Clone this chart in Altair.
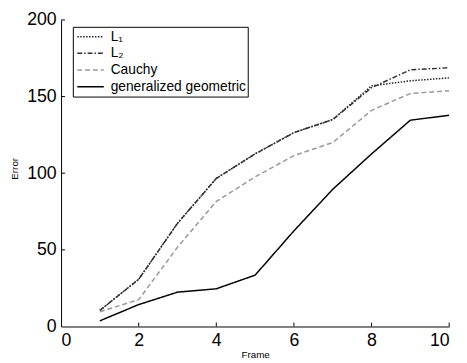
import altair as alt
import pandas as pd

frames = [1, 2, 3, 4, 5, 6, 7, 8, 9, 10]
l1 = [10.5, 30.8, 67.3, 96.6, 112.6, 126.5, 135.0, 157.0, 160.3, 162.2]
l2 = [10.5, 30.8, 67.3, 96.6, 112.6, 126.5, 135.0, 155.8, 167.5, 168.8]
cauchy = [9.6, 17.5, 51.7, 81.6, 97.6, 111.5, 120.0, 141.0, 152.0, 153.8]
gengeo = [3.7, 14.3, 22.4, 24.6, 33.5, 62.4, 89.5, 112.6, 134.6, 137.8]

names = ["L\u2081", "L\u2082", "Cauchy", "generalized geometric"]
series = [l1, l2, cauchy, gengeo]
x_ticks = [2, 4, 6, 8, 10]
y_ticks = [50, 100, 150, 200]

rows = []
for n, vals in zip(names, series):
    for f, v in zip(frames, vals):
        rows.append({"Frame": f, "Error": v, "method": n})
df = pd.DataFrame(rows)

W, H = 395, 312
FONT = "Liberation Sans"

xscale = alt.Scale(domain=[0, 10], nice=False)
yscale = alt.Scale(domain=[0, 200], nice=False)

leg = alt.Legend(
    title=None, orient="none", legendX=12, legendY=7,
    symbolType="stroke", symbolSize=729, clipHeight=17, rowPadding=0,
    padding=1.5, symbolOffset=2, labelOffset=6,
    labelFont=FONT, labelFontSize=14, labelColor="black",
    strokeColor="black", fillColor="white",
    labelExpr="datum.label + '\u00a0\u00a0'",
)

lines = alt.Chart(df).mark_line(clip=True).encode(
    x=alt.X("Frame:Q", scale=xscale,
            axis=alt.Axis(values=[0, 2, 4, 6, 8, 10], ticks=False, grid=False,
                          labelFontSize=18, labelPadding=5, labelFont=FONT,
                          labelColor="black", domainColor="black",
                          title="Frame", titleFont=FONT, titleFontSize=10,
                          titleFontWeight="normal", titleColor="black",
                          titleY=24, titleBaseline="top")),
    y=alt.Y("Error:Q", scale=yscale,
            axis=alt.Axis(values=[0, 50, 100, 150, 200], ticks=False, grid=False,
                          labelFontSize=18, labelPadding=5, labelFont=FONT,
                          labelColor="black", domainColor="black",
                          title="Error", titleFont=FONT, titleFontSize=10,
                          titleFontWeight="normal", titleColor="black",
                          titleX=-47, titleY=151, titleAngle=-90,
                          titleAlign="center", titleBaseline="middle")),
    color=alt.Color("method:N", sort=names,
                    scale=alt.Scale(domain=names, range=["#222222", "#333333", "#999999", "#000000"]),
                    legend=leg),
    strokeDash=alt.StrokeDash("method:N", sort=names,
                              scale=alt.Scale(domain=names, range=[[1.5, 1.5], [5, 2, 1.5, 2], [5, 3], [1, 0]]),
                              legend=leg),
    strokeWidth=alt.StrokeWidth("method:N", sort=names,
                                scale=alt.Scale(domain=names, range=[1.5, 1.5, 1.5, 2.2]),
                                legend=leg),
)

xt = alt.Chart(pd.DataFrame({"t": x_ticks})).mark_rule(color="black", strokeWidth=1).encode(
    x=alt.X("t:Q", scale=xscale), y=alt.value(H), y2=alt.value(H - 4))
yt = alt.Chart(pd.DataFrame({"t": y_ticks})).mark_rule(color="black", strokeWidth=1).encode(
    y=alt.Y("t:Q", scale=yscale), x=alt.value(0), x2=alt.value(4))

chart = alt.layer(lines, xt, yt).properties(
    width=W, height=H,
    autosize=alt.AutoSizeParams(type="none"),
    padding={"left": 54, "top": 9, "right": 10, "bottom": 34},
    background="white",
).configure_view(stroke=None)

chart.save("out.html", embed_options={"renderer": "svg", "actions": False})
